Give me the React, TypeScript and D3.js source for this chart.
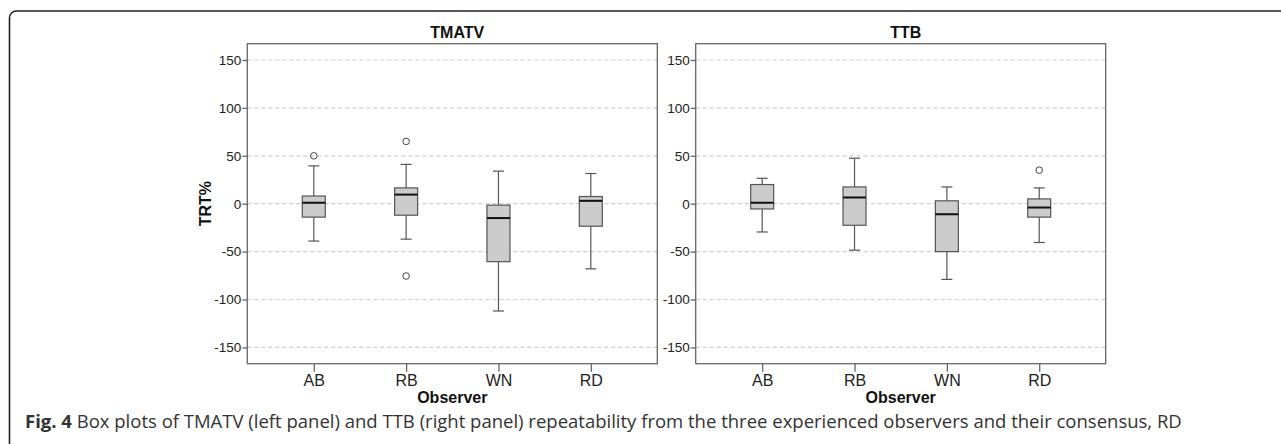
import React, { useRef, useEffect } from 'react';
import { select, scaleLinear, scalePoint, axisLeft, axisBottom } from 'd3';

const observers = ['AB', 'RB', 'WN', 'RD'];
const yTicks = [-150, -100, -50, 0, 50, 100, 150];

// TMATV (left panel)
const tmatvLow = [-39, -37, -112, -68];
const tmatvQ1 = [-14, -12, -60.5, -23.5];
const tmatvMedian = [1, 9.5, -15, 3];
const tmatvQ3 = [8, 16.5, -1.5, 7.5];
const tmatvHigh = [39.5, 41, 34, 31.5];
const tmatvOutliers = [[50], [65, -75.5], [], []];

// TTB (right panel)
const ttbLow = [-29.5, -48.5, -79, -40.5];
const ttbQ1 = [-5.5, -22.5, -50, -14];
const ttbMedian = [1, 6.5, -11, -4];
const ttbQ3 = [20, 17.5, 3, 5];
const ttbHigh = [26.5, 47.5, 17.5, 16.5];
const ttbOutliers = [[], [], [], [35]];

const panels = [
  { title: 'TMATV', low: tmatvLow, q1: tmatvQ1, med: tmatvMedian, q3: tmatvQ3, high: tmatvHigh, out: tmatvOutliers },
  { title: 'TTB', low: ttbLow, q1: ttbQ1, med: ttbMedian, q3: ttbQ3, high: ttbHigh, out: ttbOutliers },
];

const width = 1281;
const height = 444;
const axisFont = '"Liberation Sans", Arial, sans-serif';

const App = () => {
  const svgRef = useRef<SVGSVGElement>(null);

  useEffect(() => {
    const svgEl = select(svgRef.current);
    svgEl.selectAll('*').remove();

    // figure frame (rounded corner top-left)
    svgEl.append('path')
      .attr('d', `M9.5,${height} V18 A7,7 0 0 1 16.5,11 H${width}`)
      .attr('fill', 'none')
      .attr('stroke', '#222')
      .attr('stroke-width', 1.6);

    const panelW = 410;
    const panelH = 320;
    const top = 43.7;
    const lefts = [247.3, 695.7];
    const boxW = 23;
    const capW = 11;

    panels.forEach((p, pi) => {
      const svg = svgEl.append('g').attr('transform', `translate(${lefts[pi]}, ${top})`);

      const yScale = scaleLinear().domain([-167, 167]).range([panelH, 0]);
      const xScale = scalePoint<string>().domain(observers).range([0, panelW]).padding(0.72);

      // dashed grid
      svg.selectAll('.grid')
        .data(yTicks)
        .enter()
        .append('line')
        .attr('x1', 0)
        .attr('x2', panelW)
        .attr('y1', d => yScale(d))
        .attr('y2', d => yScale(d))
        .attr('stroke', '#cfcfcf')
        .attr('stroke-width', 1.2)
        .attr('stroke-dasharray', '4,3');

      // boxes
      observers.forEach((o, i) => {
        const cx = xScale(o) as number;
        const g = svg.append('g');
        // whiskers
        g.append('line')
          .attr('x1', cx).attr('x2', cx)
          .attr('y1', yScale(p.high[i])).attr('y2', yScale(p.q3[i]))
          .attr('stroke', '#555').attr('stroke-width', 1.2);
        g.append('line')
          .attr('x1', cx).attr('x2', cx)
          .attr('y1', yScale(p.q1[i])).attr('y2', yScale(p.low[i]))
          .attr('stroke', '#555').attr('stroke-width', 1.2);
        [p.high[i], p.low[i]].forEach(v => {
          g.append('line')
            .attr('x1', cx - capW / 2).attr('x2', cx + capW / 2)
            .attr('y1', yScale(v)).attr('y2', yScale(v))
            .attr('stroke', '#555').attr('stroke-width', 1.2);
        });
        g.append('rect')
          .attr('x', cx - boxW / 2)
          .attr('y', yScale(p.q3[i]))
          .attr('width', boxW)
          .attr('height', yScale(p.q1[i]) - yScale(p.q3[i]))
          .attr('fill', '#cccccc')
          .attr('stroke', '#555')
          .attr('stroke-width', 1.2);
        g.append('line')
          .attr('x1', cx - boxW / 2).attr('x2', cx + boxW / 2)
          .attr('y1', yScale(p.med[i])).attr('y2', yScale(p.med[i]))
          .attr('stroke', '#111').attr('stroke-width', 2);
        p.out[i].forEach(v => {
          g.append('circle')
            .attr('cx', cx).attr('cy', yScale(v)).attr('r', 3.3)
            .attr('fill', 'none').attr('stroke', '#444').attr('stroke-width', 1);
        });
      });

      // frame
      svg.append('rect')
        .attr('x', 0).attr('y', 0)
        .attr('width', panelW).attr('height', panelH)
        .attr('fill', 'none')
        .attr('stroke', '#666')
        .attr('stroke-width', 1.3);

      // y-axis
      const yAxisGroup = svg.append('g')
        .call(axisLeft(yScale).tickValues(yTicks).tickSize(5).tickPadding(1).tickFormat(d => String(d)));
      yAxisGroup.select('.domain').remove();
      yAxisGroup.selectAll('line').attr('stroke', '#666').attr('stroke-width', 1.3);
      yAxisGroup.selectAll('text')
        .attr('fill', '#222')
        .attr('font-size', '13.5px')
        .attr('font-family', axisFont);

      // x-axis
      const xAxisGroup = svg.append('g')
        .attr('transform', `translate(0, ${panelH})`)
        .call(axisBottom(xScale).tickSize(8).tickPadding(3));
      xAxisGroup.select('.domain').remove();
      xAxisGroup.selectAll('line').attr('stroke', '#666').attr('stroke-width', 1.3);
      xAxisGroup.selectAll('text')
        .attr('fill', '#222')
        .attr('font-size', '16px')
        .attr('font-family', axisFont);

      // title
      svg.append('text')
        .attr('x', panelW / 2 + 5)
        .attr('y', -5.5)
        .attr('text-anchor', 'middle')
        .attr('font-family', axisFont)
        .attr('font-weight', 'bold')
        .attr('font-size', '16px')
        .attr('fill', '#111')
        .text(p.title);

      // x-axis label
      svg.append('text')
        .attr('x', panelW / 2)
        .attr('y', panelH + 39)
        .attr('text-anchor', 'middle')
        .attr('font-family', axisFont)
        .attr('font-weight', 'bold')
        .attr('font-size', '16px')
        .attr('fill', '#111')
        .text('Observer');

      // y-axis label (left panel only)
      if (pi === 0) {
        svg.append('text')
          .attr('transform', `translate(${-36}, ${panelH / 2}) rotate(-90)`)
          .attr('text-anchor', 'middle')
          .attr('font-family', axisFont)
          .attr('font-weight', 'bold')
          .attr('font-size', '16px')
          .attr('fill', '#111')
          .text('TRT%');
      }
    });

    // caption
    const caption = svgEl.append('text')
      .attr('x', 25)
      .attr('y', 427.5)
      .attr('font-family', '"Open Sans", sans-serif')
      .attr('font-size', '18.5px')
      .attr('fill', '#333');
    caption.append('tspan').attr('font-weight', 'bold').text('Fig. 4');
    caption.append('tspan')
      .text(' Box plots of TMATV (left panel) and TTB (right panel) repeatability from the three experienced observers and their consensus, RD');
  }, []);

  return (
    <svg ref={svgRef} width={width} height={height}
      style={{ position: 'absolute', left: 0, top: 0, background: '#fff' }} />
  );
};

export default App;
